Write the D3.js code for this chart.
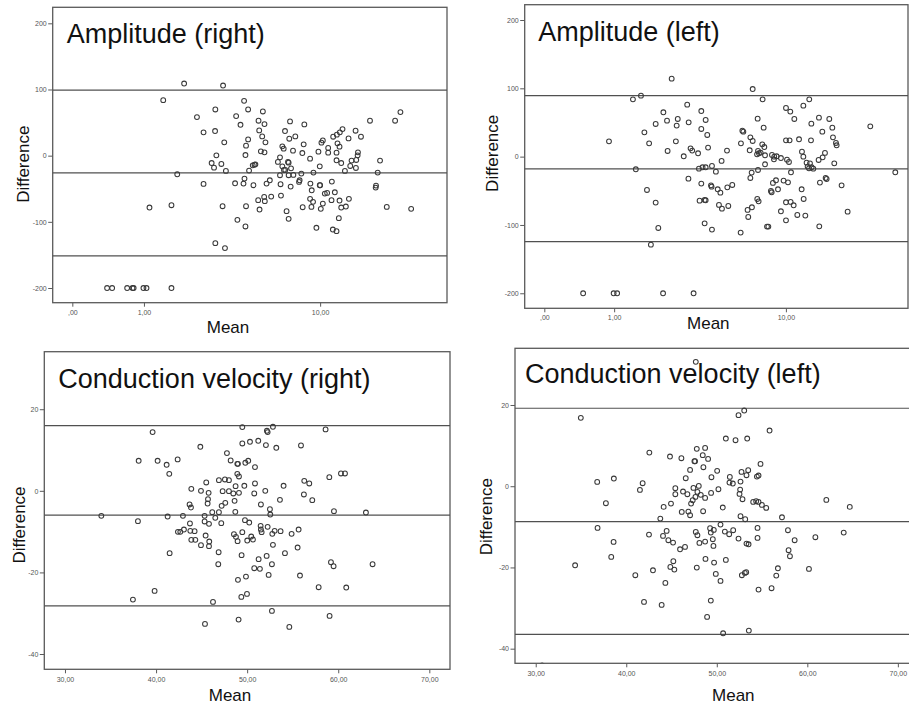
<!DOCTYPE html>
<html><head><meta charset="utf-8">
<script src="https://cdn.jsdelivr.net/npm/d3@7/dist/d3.min.js"></script>
<style>body{margin:0;background:#fff}svg{display:block;font-family:"Liberation Sans",Arial,sans-serif}</style>
</head><body><svg id="c" width="909" height="705"></svg>
<script>
// ---------- DATA ----------
const ampRight = [[1.95,109.0],[3.30,106.0],[1.41,83.9],[4.27,82.9],[2.99,69.8],[4.48,69.8],[5.32,66.8],[2.34,58.3],[3.88,59.8],[5.06,52.8],[5.42,47.7],[4.09,46.7],[7.22,51.8],[8.44,47.2],[16.82,52.8],[21.72,52.8],[22.92,65.8],[2.56,35.2],[2.98,37.2],[5.10,38.2],[6.83,37.2],[12.66,40.2],[12.31,35.2],[11.93,31.7],[11.48,28.6],[14.50,37.7],[5.28,29.1],[4.48,24.6],[5.48,20.1],[7.65,29.1],[7.16,25.6],[13.48,26.1],[15.33,28.6],[3.35,20.1],[4.37,15.1],[8.38,17.1],[10.29,23.1],[10.14,19.6],[12.01,18.6],[12.27,13.6],[6.63,14.1],[6.73,10.6],[7.46,7.5],[5.20,6.5],[5.42,5.0],[9.82,6.0],[8.26,4.0],[10.89,11.6],[10.89,4.5],[11.89,4.5],[14.86,5.0],[14.81,0.5],[3.03,0.5],[4.34,1.0],[6.46,-2.5],[8.98,-4.5],[14.60,-6.5],[11.89,-7.0],[12.49,-11.1],[13.91,-7.5],[18.64,-7.5],[2.85,-11.1],[3.23,-12.6],[2.94,-18.1],[3.42,-23.1],[4.88,-13.1],[4.83,-13.6],[4.73,-14.6],[4.53,-22.6],[6.31,-9.5],[7.06,-9.5],[7.11,-10.6],[6.63,-16.1],[6.75,-21.6],[6.85,-21.6],[7.30,-19.1],[9.96,-16.1],[13.72,-15.6],[14.55,-18.6],[12.98,-23.1],[9.31,-25.6],[8.17,-27.1],[18.20,-25.6],[1.76,-28.1],[6.46,-29.6],[7.11,-29.6],[7.49,-29.1],[4.29,-34.7],[4.24,-42.2],[3.83,-41.7],[2.56,-42.7],[4.77,-44.7],[5.55,-42.2],[5.76,-37.2],[6.50,-43.2],[7.27,-46.7],[8.02,-37.2],[7.97,-39.7],[9.01,-42.2],[9.14,-52.3],[9.96,-44.7],[10.0,-44.7],[11.32,-39.2],[17.89,-45.2],[17.83,-48.2],[6.53,-60.3],[5.85,-61.8],[5.40,-62.3],[5.44,-68.8],[5.04,-67.3],[5.12,-81.4],[10.51,-57.3],[10.77,-56.3],[11.68,-55.3],[10.29,-72.4],[8.98,-65.3],[9.27,-69.8],[11.28,-67.3],[12.27,-67.8],[13.53,-65.3],[1.11,-78.4],[1.61,-74.9],[3.28,-76.4],[4.37,-76.4],[8.29,-77.9],[9.11,-77.4],[10.07,-80.4],[12.49,-78.4],[13.11,-76.9],[19.96,-77.4],[25.54,-80.4],[6.95,-83.9],[7.11,-95.5],[12.18,-94.5],[3.94,-97.0],[4.34,-107.0],[9.61,-109.0],[11.44,-111.6],[11.89,-114.1],[2.99,-132.2],[3.38,-139.7],[0.40,-200],[0.47,-200],[0.70,-200],[0.79,-200],[0.81,-200],[0.99,-200],[1.05,-200],[1.61,-200]];
const ampRightLines = [99.0, -26.1, -151.3];

const ampLeft = [[2.54,114.1],[6.91,99.0],[1.61,89.3],[1.41,83.9],[7.73,83.9],[12.87,83.9],[12.08,74.6],[3.13,76.1],[3.75,66.8],[2.26,64.9],[10.01,71.2],[10.49,65.9],[10.96,55.1],[14.27,57.1],[15.92,55.1],[2.38,52.7],[2.76,55.1],[2.72,45.4],[3.96,53.7],[3.19,50.2],[7.31,55.6],[2.02,47.8],[13.16,48.3],[3.75,40.5],[7.82,42.4],[16.44,42.4],[1.70,35.6],[4.04,31.7],[6.14,38.0],[6.21,36.6],[14.79,36.6],[6.73,28.3],[6.91,22.9],[16.55,28.3],[17.08,20.0],[17.20,16.6],[10.01,23.9],[10.41,23.9],[11.53,25.4],[13.11,23.9],[0.90,22.4],[1.83,19.5],[2.69,22.4],[6.04,19.5],[4.08,13.2],[3.27,12.2],[3.34,8.8],[7.70,18.0],[7.88,14.1],[2.40,8.3],[3.60,4.9],[2.99,0.5],[5.13,8.8],[6.68,9.3],[7.34,8.3],[7.42,4.9],[7.26,3.4],[7.56,5.9],[7.94,2.0],[8.58,2.4],[8.80,0],[9.03,0.5],[9.47,-2.0],[11.90,7.3],[12.08,0],[15.21,5.4],[14.84,-1.0],[10.12,-4.4],[10.34,-7.8],[12.51,-8.8],[12.97,-9.8],[14.22,-4.9],[16.78,-9.8],[4.81,-6.3],[8.77,-3.9],[7.94,-11.2],[4.28,-13.7],[3.64,-17.6],[3.81,-15.6],[3.96,-15.6],[4.49,-22.0],[1.48,-18.5],[7.34,-19.5],[6.83,-23.4],[12.65,-14.6],[12.83,-17.1],[13.44,-17.6],[13.20,-15.6],[10.57,-22.9],[6.73,-31.2],[3.18,-32.2],[15.32,-31.2],[15.48,-32.7],[8.97,-34.6],[8.67,-38.5],[9.75,-35.1],[10.23,-37.6],[14.42,-38.0],[3.75,-39.5],[4.23,-42.0],[4.26,-43.9],[5.46,-41.5],[5.15,-44.9],[4.59,-47.8],[4.74,-52.7],[9.17,-47.8],[8.48,-50.2],[8.55,-52.2],[11.86,-47.8],[18.12,-42.0],[1.77,-48.8],[2.02,-67.3],[3.67,-64.4],[3.91,-63.4],[3.96,-63.9],[7.28,-62.0],[7.39,-65.4],[4.66,-70.7],[5.21,-72.2],[4.83,-76.1],[6.52,-78.0],[6.85,-74.1],[12.12,-62.0],[10.01,-66.8],[10.53,-66.3],[10.88,-71.2],[6.57,-88.3],[9.47,-80.0],[11.32,-85.4],[12.34,-86.3],[19.30,-80.5],[10.01,-93.2],[2.10,-104.4],[3.91,-97.6],[4.28,-106.8],[6.02,-111.2],[8.12,-102.4],[8.24,-102.4],[14.32,-102.0],[24.42,44.4],[31.58,-22.9],[1.88,-128.8],[0.47,-200],[0.99,-200],[1.06,-200],[2.25,-200],[3.40,-200]];
const ampLeftLines = [89.3, -18.0, -124.4];

const cvRight = [[49.47,15.62],[52.83,15.70],[52.17,14.72],[52.25,14.39],[58.61,15.05],[39.62,14.39],[51.22,12.27],[49.47,11.61],[50.31,12.02],[44.86,10.79],[52.06,11.20],[53.20,10.55],[55.91,11.12],[47.78,9.24],[48.19,7.44],[48.92,6.62],[48.99,6.62],[49.80,6.87],[50.12,7.36],[38.09,7.36],[40.17,7.36],[42.37,7.69],[41.16,6.38],[50.86,5.81],[41.45,4.17],[48.92,4.17],[49.10,3.52],[60.30,4.25],[60.74,4.25],[59.02,3.35],[46.90,2.62],[47.56,2.78],[48.00,2.62],[45.51,2.04],[50.86,1.80],[56.27,2.45],[56.82,1.80],[54.00,1.23],[48.73,1.14],[49.69,1.23],[43.87,0.49],[44.93,0],[45.77,-0.49],[45.70,-2.04],[45.66,-3.11],[47.31,-0.08],[48.00,-0.08],[48.48,-0.65],[49.10,-0.49],[48.62,-2.45],[50.78,-0.65],[51.99,0],[56.23,-0.90],[57.15,-2.29],[53.60,-2.21],[51.51,-3.35],[52.50,-4.50],[52.54,-5.81],[43.68,-3.35],[43.83,-4.09],[59.53,-4.99],[63.04,-5.32],[33.99,-6.13],[38.01,-7.44],[41.27,-6.30],[42.95,-6.13],[45.33,-6.13],[45.33,-7.52],[45.81,-8.10],[46.17,-5.23],[46.90,-5.23],[46.50,-6.62],[47.20,-3.68],[47.60,-2.94],[47.16,-7.93],[48.70,-5.15],[49.76,-7.20],[50.23,-7.77],[43.72,-8.01],[43.06,-9.49],[42.40,-10.06],[42.66,-10.06],[43.76,-9.81],[44.23,-9.89],[43.87,-12.02],[44.31,-12.02],[45.44,-10.96],[45.84,-12.43],[45.81,-13.57],[44.93,-13.33],[48.55,-10.63],[48.77,-11.28],[48.95,-12.35],[49.47,-10.14],[50.01,-12.18],[50.45,-11.20],[50.64,-11.94],[51.48,-8.59],[51.51,-9.49],[51.59,-10.14],[52.25,-8.83],[52.76,-10.55],[53.02,-9.81],[53.67,-9.89],[54.88,-10.55],[55.65,-9.49],[52.83,-13.25],[54.15,-15.29],[55.54,-13.90],[41.49,-15.29],[46.87,-15.05],[46.83,-17.99],[49.39,-15.78],[51.26,-16.76],[52.14,-15.95],[52.72,-17.99],[50.78,-18.97],[51.40,-19.13],[52.36,-20.61],[48.99,-21.83],[49.87,-21.02],[55.80,-20.77],[59.20,-17.50],[59.49,-18.48],[63.77,-17.99],[57.85,-23.63],[60.88,-23.71],[39.84,-24.53],[37.46,-26.66],[49.36,-26.00],[49.98,-25.27],[46.25,-27.23],[52.72,-29.44],[59.05,-30.66],[45.37,-32.63],[49.06,-31.56],[54.63,-33.36]];
const cvRightLines = [16.0, -5.97, -28.2];

const cvLeft = [[47.68,30.62],[34.98,16.83],[52.40,17.49],[53.03,18.64],[55.83,13.71],[51.00,11.74],[52.07,11.33],[53.36,11.74],[42.55,8.29],[47.79,9.20],[48.71,9.44],[44.83,7.31],[46.09,6.90],[48.45,7.64],[49.04,6.73],[47.53,6.16],[47.60,6.16],[48.52,4.68],[47.05,4.02],[54.83,5.50],[52.73,3.53],[53.47,3.94],[53.28,2.71],[50.04,3.78],[49.41,2.22],[46.57,1.97],[54.43,2.38],[54.61,2.63],[38.63,1.89],[36.79,1.07],[41.81,0.74],[41.51,-0.90],[51.44,2.30],[51.40,0.90],[51.77,0.66],[52.62,1.15],[52.58,-0.82],[52.51,-1.89],[45.42,-0.49],[45.42,-1.97],[46.27,-1.31],[46.75,-1.97],[47.42,-0.41],[48.01,0.08],[47.86,-1.40],[47.64,-2.63],[47.34,-3.45],[47.16,-4.27],[48.23,-2.13],[48.71,-2.87],[49.37,-1.64],[50.18,-0.74],[52.84,-3.20],[37.75,-4.19],[44.13,-5.09],[44.94,-4.27],[54.02,-3.86],[54.35,-3.69],[54.61,-3.86],[54.98,-4.60],[55.46,-5.34],[46.13,-6.32],[46.86,-6.24],[47.05,-7.14],[48.49,-6.16],[50.66,-5.25],[52.62,-7.39],[53.14,-8.13],[43.76,-7.96],[57.20,-7.64],[62.10,-3.37],[64.69,-5.09],[36.83,-10.26],[42.51,-11.90],[44.06,-12.23],[44.46,-11.00],[44.65,-13.30],[45.17,-13.87],[47.68,-11.25],[47.86,-12.07],[48.08,-13.96],[49.26,-10.34],[49.34,-11.41],[49.67,-10.76],[49.56,-13.05],[49.63,-14.70],[48.71,-13.63],[50.41,-9.44],[50.89,-11.17],[51.37,-11.82],[51.81,-10.84],[52.40,-12.89],[53.28,-14.12],[53.51,-14.29],[54.50,-10.26],[54.50,-12.73],[57.86,-10.84],[58.60,-13.30],[60.89,-12.56],[64.02,-11.41],[38.60,-13.71],[45.94,-15.52],[46.49,-14.94],[57.93,-15.76],[58.08,-17.24],[38.34,-17.41],[34.35,-19.46],[41.00,-21.92],[42.95,-20.69],[44.32,-23.81],[44.87,-19.87],[45.20,-18.47],[45.31,-20.53],[47.79,-20.03],[48.75,-17.90],[49.70,-18.80],[49.89,-21.59],[50.41,-23.32],[51.00,-18.14],[52.77,-21.92],[53.10,-21.35],[53.25,-21.18],[54.61,-25.45],[56.05,-25.12],[56.75,-20.20],[56.57,-22.00],[60.18,-20.36],[41.96,-28.49],[43.91,-29.23],[49.34,-28.16],[48.93,-32.18],[50.70,-36.21],[53.54,-35.55],[30.70,-44.1]];
const cvLeftLines = [19.2, -8.7, -36.5];

const logTicks = [0, 1, 10];
const logTickLabels = [",00", "1,00", "10,00"];
const ampYTicks = [200, 100, 0, -100, -200];
const cvXTicks = [30, 40, 50, 60, 70];
const cvXTickLabels = ["30,00", "40,00", "50,00", "60,00", "70,00"];
const cvYTicks = [20, 0, -20, -40];
const titles = ["Amplitude (right)", "Amplitude (left)", "Conduction velocity (right)", "Conduction velocity (left)"];

// ---------- LAYOUT ----------
const panels = [
  {title: titles[0], data: ampRight, lines: ampRightLines, log: true, xDomain: [-0.209, 36.54], yDomain: [-222.2, 224.2],
   box: [52.7, 7.3, 447, 302.7], xTicks: logTicks, xLabels: logTickLabels, yTicks: ampYTicks,
   titlePos: [66.7, 43.3], yLab: [29.3, 164.2], xLab: [228, 333.3], xLabOff: 12},
  {title: titles[1], data: ampLeft, lines: ampLeftLines, log: true, xDomain: [-0.215, 35.96], yDomain: [-222, 222.4],
   box: [524.7, 4.7, 908, 308.3], xTicks: logTicks, xLabels: logTickLabels, yTicks: ampYTicks,
   titlePos: [538.3, 41.3], yLab: [498.3, 153.3], xLab: [708.3, 329.3], xLabOff: 12},
  {title: titles[2], data: cvRight, lines: cvRightLines, log: false, xDomain: [27.73, 72.27], yDomain: [-43.75, 34.1],
   box: [44.3, 351.7, 450, 669.3], xTicks: cvXTicks, xLabels: cvXTickLabels, yTicks: cvYTicks,
   titlePos: [58.3, 388.3], yLab: [25, 525], xLab: [230, 701], xLabOff: 13},
  {title: titles[3], data: cvLeft, lines: cvLeftLines, log: false, xDomain: [27.71, 72.27], yDomain: [-43.6, 33.96],
   box: [515, 348.3, 918.4, 663.3], xTicks: cvXTicks, xLabels: cvXTickLabels, yTicks: cvYTicks,
   titlePos: [525, 383.3], yLab: [491.7, 516.7], xLab: [733.3, 701], xLabOff: 13}
];

const svg = d3.select("#c");
const frameColor = "#5a5a5a", lineColor = "#505050", pointColor = "#3a3a3a";

panels.forEach((p, i) => {
  const [l, t, r, b] = p.box;
  const x = p.log ? d3.scaleSymlog().constant(1).domain(p.xDomain).range([l, r])
                  : d3.scaleLinear().domain(p.xDomain).range([l, r]);
  const y = d3.scaleLinear().domain(p.yDomain).range([b, t]);
  const g = svg.append("g");

  const clipId = "clip" + i;
  svg.append("clipPath").attr("id", clipId).append("rect")
    .attr("x", l).attr("y", t).attr("width", r - l).attr("height", b - t);

  g.append("rect").attr("x", l).attr("y", t).attr("width", r - l).attr("height", b - t)
    .attr("fill", "none").attr("stroke", frameColor).attr("stroke-width", 1.3);

  g.append("g").selectAll("line").data(p.lines).join("line")
    .attr("x1", l).attr("x2", r).attr("y1", d => y(d)).attr("y2", d => y(d))
    .attr("stroke", lineColor).attr("stroke-width", 1.2);

  g.append("g").attr("clip-path", `url(#${clipId})`).selectAll("circle").data(p.data).join("circle")
    .attr("cx", d => x(d[0])).attr("cy", d => y(d[1])).attr("r", 2.4)
    .attr("fill", "none").attr("stroke", pointColor).attr("stroke-width", 1.05);

  const ya = g.append("g").attr("transform", `translate(${l},0)`)
    .call(d3.axisLeft(y).tickValues(p.yTicks).tickSize(4.5).tickPadding(1.5).tickFormat(d => String(d)));
  const xa = g.append("g").attr("transform", `translate(0,${b})`)
    .call(d3.axisBottom(x).tickValues(p.xTicks).tickSize(4).tickPadding(3).tickFormat((d, k) => p.xLabels[k]));
  [ya, xa].forEach(a => {
    a.select(".domain").remove();
    a.selectAll(".tick line").attr("stroke", frameColor).attr("stroke-width", 1);
    a.selectAll(".tick text").attr("fill", "#555").style("font-size", "7px")
      .style("font-family", '"Liberation Sans",Arial,sans-serif');
  });
  xa.selectAll(".tick text").attr("dy", null).attr("y", p.xLabOff);

  g.append("text").attr("x", p.titlePos[0]).attr("y", p.titlePos[1]).text(p.title)
    .style("font-size", "27px").attr("fill", "#111");
  g.append("text").attr("transform", `translate(${p.yLab[0]},${p.yLab[1]}) rotate(-90)`)
    .attr("text-anchor", "middle").text("Difference").style("font-size", "17px").attr("fill", "#111");
  g.append("text").attr("x", p.xLab[0]).attr("y", p.xLab[1]).attr("text-anchor", "middle")
    .text("Mean").style("font-size", "17px").attr("fill", "#111");
});
</script>
</body></html>
